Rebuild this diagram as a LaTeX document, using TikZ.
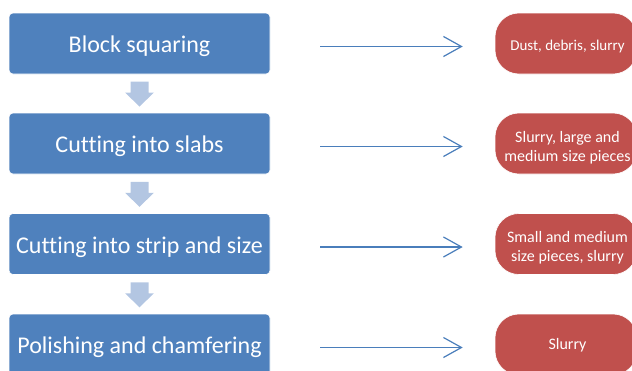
\documentclass[tikz,border=0pt]{standalone}
\usepackage{fontspec}
\setmainfont[Ligatures=CommonOff]{Carlito}
\usetikzlibrary{arrows.meta,calc}
\definecolor{boxblue}{HTML}{4F81BD}
\definecolor{pillred}{HTML}{C0504D}
\definecolor{downblue}{HTML}{B3C6E2}
\definecolor{lineblue}{HTML}{4A7EBB}
\begin{document}
\begin{tikzpicture}[x=1pt,y=-1pt,
  stepbox/.style={fill=boxblue,draw=white,line width=0.6pt,rounded corners=4pt,minimum width=261pt,minimum height=61pt,inner sep=0pt},
  steptext/.style={inner sep=0pt,text=white,font=\fontsize{24}{29}\selectfont},
  pill/.style={fill=pillred,draw=white,line width=0.6pt,rounded corners=24pt,minimum width=142pt,minimum height=61pt,inner sep=0pt},
  pilltext/.style={inner sep=0pt,text=white,align=center,font=\fontsize{16}{19}\selectfont},
  flow/.style={draw=lineblue,line width=1.2pt,-{Straight Barb[length=18pt,width=20pt,line width=1.2pt]}},
  downarrow/.style={fill=downblue}
]
\useasboundingbox (0,0) rectangle (632,370);
\node[stepbox] (b1) at (139.5,43.5) {};
\node[stepbox] (b2) at (139.5,143.5) {};
\node[stepbox] (b3) at (139.5,244) {};
\node[stepbox] (b4) at (139.5,344.5) {};
\node[steptext] (tb1) at ([yshift=-3pt]b1.center) {Block squaring};
\node[steptext] (tb2) at ([yshift=-3pt]b2.center) {Cutting into slabs};
\node[steptext] (tb3) at ([yshift=-3pt]b3.center) {Cutting into strip and size};
\node[steptext] (tb4) at ([yshift=-3pt]b4.center) {Polishing and chamfering};
\node[pill] (p1) at (566,43.5) {};
\node[pill] (p2) at (566,143.5) {};
\node[pill] (p3) at (566,244) {};
\node[pill] (p4) at (566,344.5) {};
\node[pilltext,font=\fontsize{15}{18}\selectfont] (tp1) at ([xshift=1.5pt,yshift=-2.5pt]p1.center) {Dust, debris, slurry};
\node[pilltext] (tp2) at ([xshift=1.5pt,yshift=-4pt]p2.center) {Slurry, large and\\medium size pieces};
\node[pilltext] (tp3) at ([xshift=1.5pt,yshift=-4pt]p3.center) {Small and medium\\size pieces, slurry};
\node[pilltext] (tp4) at ([xshift=1.5pt,yshift=-0.5pt]p4.center) {Slurry};
\foreach \a/\b in {b1/p1,b2/p2,b3/p3,b4/p4}{
  \coordinate (s\a) at ([xshift=50pt,yshift=-3pt]\a.east);
  \coordinate (t\a) at ([xshift=-32pt,yshift=-3pt]\b.west);
  \draw[flow] (s\a) -- (t\a);
}
\foreach \a/\b in {b1/b2,b2/b3,b3/b4}{
  \coordinate (m\a) at ($(\a.south)!0.5!(\b.north)$);
  \fill[downarrow] ([shift={(-9,-12)}]m\a) -- ([shift={(9,-12)}]m\a) -- ([shift={(9,-1)}]m\a) -- ([shift={(14.5,-1)}]m\a) -- ([shift={(0,13)}]m\a) -- ([shift={(-14.5,-1)}]m\a) -- ([shift={(-9,-1)}]m\a) -- cycle;
}
\end{tikzpicture}
\end{document}
